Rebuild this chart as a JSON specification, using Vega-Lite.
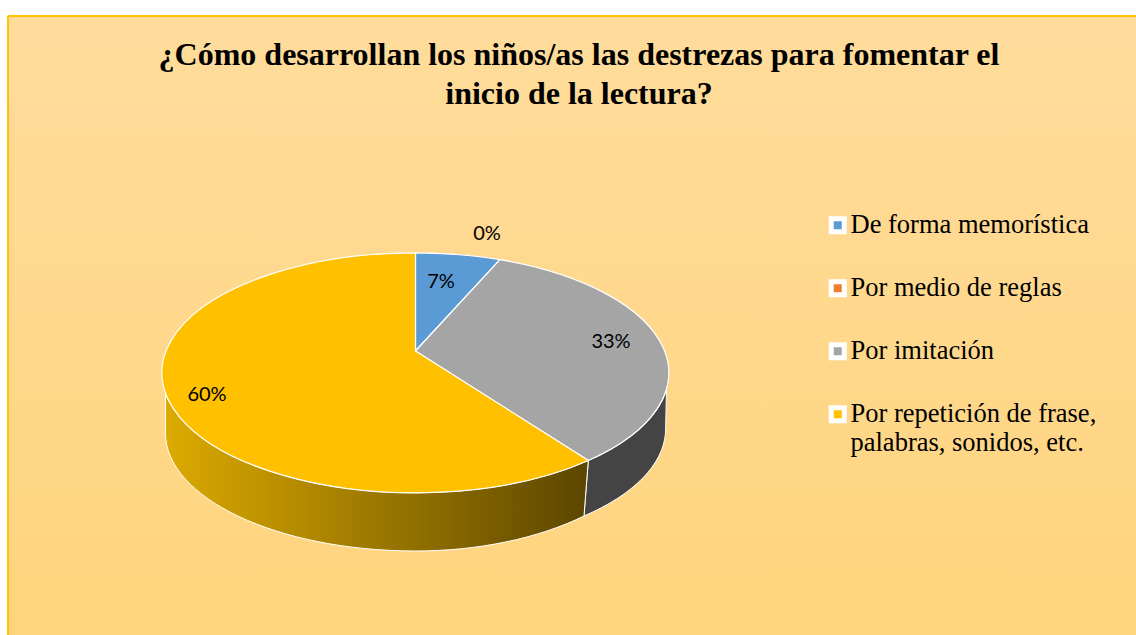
{"$schema":"https://vega.github.io/schema/vega-lite/v6.json","width":1128,"height":619,"autosize":{"type":"none"},"padding":{"left":8,"top":16,"right":0,"bottom":0},"background":"#ffffff","view":{"stroke":null,"fill":{"gradient":"linear","x1":0,"y1":0,"x2":0,"y2":1,"stops":[{"offset":0,"color":"#FFDC9C"},{"offset":1,"color":"#FFD47D"}]}},"title":{"text":["¿Cómo desarrollan los niños/as las destrezas para fomentar el","inicio de la lectura?"],"font":"Liberation Serif","fontSize":32,"fontWeight":"bold","color":"#000000","anchor":"middle","dx":7,"offset":-96,"lineHeight":39},"data":{"values":[{"forma":"De forma memorística","share":0.07},{"forma":"Por medio de reglas","share":0},{"forma":"Por imitación","share":0.33},{"forma":"Por repetición de frase, palabras, sonidos, etc.","share":0.6}]},"layer":[{"transform":[{"filter":"datum.share==0.33"}],"mark":{"type":"point","filled":true,"opacity":1,"fill":"#444444","stroke":"#ffffff","strokeWidth":1,"size":4},"encoding":{"shape":{"value":"M16.3,135 A253.5,120 0 0 0 94.5,64.5 L93.5,107.5 A250,118 0 0 1 12,190.5 Z"}}},{"transform":[{"filter":"datum.share==0.6"}],"mark":{"type":"point","filled":true,"opacity":1,"stroke":"#ffffff","strokeWidth":1,"size":4,"fill":{"gradient":"linear","x1":0,"y1":0,"x2":1,"y2":0,"stops":[{"offset":0,"color":"#DCAA00"},{"offset":1,"color":"#5C4600"}]}},"encoding":{"shape":{"value":"M16.3,135 A253.5,120 0 0 1 -406.5,67.5 L-406.5,107.5 A250,118 0 0 0 -156.5,225.5 A250,134 0 0 0 12,190.5 Z"}}},{"mark":{"type":"point","filled":true,"opacity":1,"stroke":"#ffffff","strokeWidth":1.2,"size":4},"encoding":{"color":{"field":"forma","type":"nominal","sort":null,"scale":{"domain":["De forma memorística","Por medio de reglas","Por imitación","Por repetición de frase, palabras, sonidos, etc."],"range":["#5B9BD5","#ED7D31","#A5A5A5","#FFC000"]},"legend":null},"shape":{"field":"forma","type":"nominal","sort":null,"legend":null,"scale":{"domain":["De forma memorística","Por medio de reglas","Por imitación","Por repetición de frase, palabras, sonidos, etc."],"range":["M-156.5,25.5 L-156.5,-72.7 A253.5,120 0 0 1 -72,-65.8 Z","M-156.5,25.5 L-72,-65.8 Z","M-156.5,25.5 L-72,-65.8 A253.5,120 0 0 1 16.3,135 Z","M-156.5,25.5 L16.3,135 A253.5,120 0 1 1 -156.5,-72.7 Z"]}}}},{"mark":{"type":"square","filled":true,"size":0},"encoding":{"color":{"field":"forma","type":"nominal","sort":null,"scale":{"domain":["De forma memorística","Por medio de reglas","Por imitación","Por repetición de frase, palabras, sonidos, etc."],"range":["#5B9BD5","#ED7D31","#A5A5A5","#FFC000"]},"legend":{"title":null,"orient":"none","legendX":816.5,"legendY":196,"symbolType":"square","symbolSize":169,"symbolStrokeColor":"#ffffff","symbolStrokeWidth":5,"symbolOpacity":1,"labelFont":"Liberation Serif","labelFontSize":26.5,"labelColor":"#000000","labelOffset":-0.5,"labelLimit":400,"rowPadding":29,"labelExpr":"indexof(datum.label,'palabras')>=0?['Por repetición de frase,','palabras, sonidos, etc.']:datum.label"}}}},{"mark":{"type":"text","font":"Lato","fontSize":20,"color":"#000000","align":"center","baseline":"middle"},"encoding":{"x":{"field":"share","type":"quantitative","axis":null,"scale":{"domain":[0,0.07,0.33,0.6],"range":[479,433,603,199],"zero":false,"nice":false}},"y":{"field":"share","type":"quantitative","axis":null,"scale":{"domain":[0,0.07,0.33,0.6],"range":[218,266,326,379],"zero":false,"nice":false}},"text":{"field":"share","type":"quantitative","format":".0%"}}},{"mark":{"type":"rule","color":"#FFC000","strokeWidth":1.5},"encoding":{"x":{"value":0}}},{"mark":{"type":"rule","color":"#FFC000","strokeWidth":1.5},"encoding":{"y":{"value":0}}}],"resolve":{"scale":{"x":"independent","y":"independent"},"legend":{"color":"independent"}}}
